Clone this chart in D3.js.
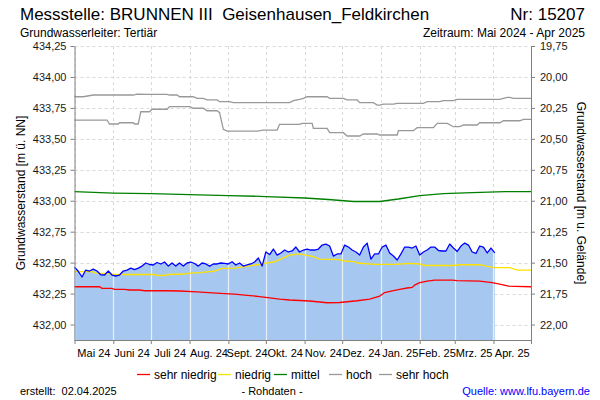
<!DOCTYPE html>
<html>
<head>
<meta charset="utf-8">
<script src="https://cdn.jsdelivr.net/npm/d3@7"></script>
<style>
    body { margin: 0; background: #fff; }
    svg { font-family: Arial, "Liberation Sans", sans-serif; }
</style>
</head>
<body>
<div id="chart"></div>
<script>
// Rohdaten: Grundwasserstand [m ü. NN], alle 3 Tage ab 01.05.2024
const levelStart = "2024-05-01";
const levelStepDays = 3;
const levelValues = [
    432.464, 432.430, 432.384, 432.440, 432.432, 432.448, 432.432, 432.402, 432.400, 432.432,
    432.400, 432.392, 432.400, 432.432, 432.440, 432.456, 432.443, 432.456, 432.472, 432.497,
    432.485, 432.481, 432.501, 432.489, 432.505, 432.472, 432.497, 432.472, 432.497, 432.472,
    432.497, 432.505, 432.493, 432.472, 432.497, 432.489, 432.472, 432.489, 432.489, 432.497,
    432.494, 432.489, 432.507, 432.481, 432.497, 432.472, 432.481, 432.489, 432.505, 432.537,
    432.472, 432.586, 432.565, 432.610, 432.561, 432.578, 432.602, 432.586, 432.594, 432.626,
    432.586, 432.602, 432.610, 432.602, 432.602, 432.610, 432.642, 432.650, 432.634, 432.553,
    432.570, 432.570, 432.642, 432.626, 432.602, 432.586, 432.561, 432.626, 432.658, 432.529,
    432.570, 432.570, 432.626, 432.642, 432.578, 432.553, 432.521, 432.570, 432.626, 432.626,
    432.618, 432.634, 432.561, 432.586, 432.602, 432.626, 432.626, 432.598, 432.594, 432.594,
    432.650, 432.618, 432.590, 432.634, 432.658, 432.642, 432.586, 432.574, 432.634, 432.626,
    432.578, 432.618, 432.578
];

// Kennlinien
const sehrNiedrigDates = ["2024-05-01","2024-05-21","2024-05-23","2024-05-31","2024-06-02","2024-06-10","2024-06-14","2024-06-22","2024-06-26","2024-07-12","2024-07-24","2024-08-07","2024-08-13","2024-08-29","2024-09-06","2024-09-14","2024-09-26","2024-10-04","2024-10-12","2024-10-20","2024-10-28","2024-11-05","2024-11-19","2024-11-29","2024-12-07","2024-12-13","2024-12-23","2024-12-27","2024-12-31","2025-01-04","2025-01-10","2025-01-16","2025-01-22","2025-01-26","2025-01-28","2025-02-01","2025-02-07","2025-02-13","2025-02-27","2025-03-03","2025-03-21","2025-03-31","2025-04-06","2025-04-13","2025-04-18","2025-05-01"];
const sehrNiedrigValues = [432.305,432.305,432.292,432.292,432.284,432.284,432.279,432.279,432.273,432.273,432.271,432.263,432.260,432.250,432.246,432.238,432.226,432.216,432.206,432.198,432.194,432.190,432.176,432.178,432.186,432.192,432.206,432.218,432.230,432.258,432.271,432.284,432.295,432.300,432.319,432.338,432.351,432.359,432.359,432.355,432.351,432.338,432.327,432.311,432.309,432.305];

const niedrigDates = ["2024-05-01","2024-05-15","2024-05-18","2024-05-29","2024-06-02","2024-07-04","2024-07-07","2024-07-12","2024-07-15","2024-07-28","2024-08-01","2024-08-09","2024-08-21","2024-08-27","2024-09-06","2024-09-14","2024-09-28","2024-09-30","2024-10-08","2024-10-14","2024-10-20","2024-10-28","2024-11-08","2024-11-13","2024-11-29","2024-12-03","2024-12-11","2024-12-13","2024-12-27","2025-01-12","2025-01-24","2025-02-01","2025-02-05","2025-03-01","2025-03-05","2025-03-21","2025-03-27","2025-04-02","2025-04-14","2025-04-20","2025-05-01"];
const niedrigValues = [432.428,432.428,432.416,432.412,432.404,432.404,432.396,432.396,432.404,432.408,432.416,432.420,432.432,432.454,432.456,432.467,432.489,432.494,432.507,432.535,432.561,432.570,432.548,432.529,432.525,432.513,432.509,432.497,432.486,432.486,432.494,432.489,432.477,432.477,432.483,432.483,432.469,432.459,432.459,432.440,432.440];

const mittelDates = ["2024-05-01","2024-06-01","2024-07-01","2024-08-01","2024-09-01","2024-10-01","2024-11-01","2024-11-20","2024-12-10","2024-12-31","2025-01-15","2025-02-01","2025-02-20","2025-03-15","2025-04-10","2025-05-01"];
const mittelValues = [433.073,433.062,433.058,433.050,433.042,433.034,433.022,433.010,432.994,432.994,433.014,433.042,433.058,433.066,433.074,433.074];

const hochDates = ["2024-05-01","2024-05-27","2024-05-29","2024-06-05","2024-06-06","2024-06-17","2024-06-18","2024-06-21","2024-06-23","2024-06-30","2024-07-02","2024-07-14","2024-07-16","2024-08-01","2024-08-04","2024-08-12","2024-08-15","2024-08-23","2024-08-25","2024-08-28","2024-08-31","2024-09-24","2024-09-29","2024-10-10","2024-10-12","2024-10-28","2024-10-30","2024-11-07","2024-11-08","2024-11-19","2024-11-21","2024-12-02","2024-12-05","2024-12-15","2024-12-18","2024-12-29","2024-12-31","2025-01-14","2025-01-15","2025-01-27","2025-01-30","2025-02-12","2025-02-15","2025-02-23","2025-02-28","2025-03-05","2025-03-08","2025-03-19","2025-03-21","2025-04-06","2025-04-09","2025-04-22","2025-04-25","2025-05-01"];
const hochValues = [433.652,433.652,433.620,433.620,433.630,433.630,433.620,433.620,433.719,433.719,433.739,433.739,433.760,433.760,433.747,433.747,433.727,433.727,433.711,433.577,433.563,433.563,433.571,433.571,433.617,433.617,433.625,433.625,433.585,433.585,433.550,433.550,433.523,433.523,433.539,433.539,433.531,433.531,433.566,433.566,433.590,433.590,433.625,433.625,433.598,433.598,433.612,433.612,433.630,433.630,433.646,433.646,433.658,433.658];

const sehrHochDates = ["2024-05-01","2024-05-08","2024-05-16","2024-06-17","2024-06-20","2024-06-30","2024-07-14","2024-07-16","2024-07-22","2024-07-24","2024-08-04","2024-08-07","2024-08-12","2024-08-15","2024-08-23","2024-08-25","2024-09-02","2024-09-05","2024-10-20","2024-10-23","2024-10-28","2024-10-31","2024-11-03","2024-11-19","2024-11-21","2024-12-02","2024-12-05","2024-12-13","2024-12-15","2024-12-26","2024-12-29","2024-12-31","2025-01-03","2025-01-11","2025-01-14","2025-02-04","2025-02-07","2025-02-17","2025-02-20","2025-02-28","2025-03-03","2025-04-06","2025-04-12","2025-04-14","2025-04-17","2025-05-01"];
const sehrHochValues = [433.840,433.840,433.854,433.854,433.862,433.860,433.860,433.854,433.854,433.840,433.840,433.827,433.827,433.814,433.814,433.800,433.800,433.792,433.792,433.808,433.819,433.827,433.840,433.840,433.827,433.827,433.814,433.814,433.792,433.792,433.773,433.773,433.781,433.781,433.787,433.787,433.800,433.800,433.808,433.808,433.819,433.819,433.835,433.835,433.827,433.827];

const levelTicks = [432.00, 432.25, 432.50, 432.75, 433.00, 433.25, 433.50, 433.75, 434.00, 434.25];
const monthLabels = ["Mai 24", "Juni 24", "Juli 24", "Aug. 24", "Sept. 24", "Okt. 24", "Nov. 24", "Dez. 24", "Jan. 25", "Feb. 25", "Mrz. 25", "Apr. 25"];
const gelaendeHoehe = 454.0; // m ü. NN, für rechte Achse

const legendItems = [
    { name: "sehr niedrig", color: "#ff0000" },
    { name: "niedrig", color: "#ffe100" },
    { name: "mittel", color: "#008000" },
    { name: "hoch", color: "#999999" },
    { name: "sehr hoch", color: "#999999" }
];

const width = 600, height = 400;
const margin = { top: 46, right: 69, bottom: 60, left: 74.5 };

let parseDate = d3.timeParse("%Y-%m-%d");
let de = d3.formatLocale({ decimal: ",", thousands: ".", grouping: [3], currency: ["", " €"] });
let fmt = de.format(".2f");

let svg = d3.select("#chart").append("svg")
    .attr("width", width)
    .attr("height", height);

let startDate = parseDate("2024-05-01");
let endDate = parseDate("2025-05-01");

let x = d3.scaleTime()
    .domain([startDate, endDate])
    .range([margin.left, width - margin.right]);

let y = d3.scaleLinear()
    .domain([431.875, 434.25])
    .range([height - margin.bottom, margin.top]);

let yR = d3.scaleLinear()
    .domain([gelaendeHoehe - 431.875, gelaendeHoehe - 434.25])
    .range([height - margin.bottom, margin.top]);

let months = d3.timeMonth.range(startDate, d3.timeDay.offset(endDate, 1));

// Gitter
let grid = svg.append("g").attr("class", "grid");
grid.selectAll(".hgrid")
    .data(levelTicks)
    .join("line")
    .attr("x1", x.range()[0]).attr("x2", x.range()[1])
    .attr("y1", d => Math.round(y(d)) + 0.5).attr("y2", d => Math.round(y(d)) + 0.5)
    .attr("stroke", "#d9d9d9")
    .attr("stroke-dasharray", "3,3");
grid.selectAll(".vgrid")
    .data(months)
    .join("line")
    .attr("x1", d => Math.round(x(d)) + 0.5).attr("x2", d => Math.round(x(d)) + 0.5)
    .attr("y1", y.range()[1]).attr("y2", y.range()[0])
    .attr("stroke", "#d9d9d9")
    .attr("stroke-dasharray", "3,3");

// Messwerte
let levelData = levelValues.map((v, i) => ({
    date: d3.timeDay.offset(parseDate(levelStart), i * levelStepDays),
    value: v
}));

let area = d3.area()
    .x(d => x(d.date))
    .y0(y.range()[0])
    .y1(d => y(d.value));

svg.append("path")
    .datum(levelData)
    .attr("d", area)
    .attr("fill", "#a6c8f0");

svg.append("clipPath").attr("id", "fillclip")
    .append("path")
    .datum(levelData)
    .attr("d", area);

svg.append("g")
    .attr("clip-path", "url(#fillclip)")
    .selectAll("line")
    .data(months)
    .join("line")
    .attr("x1", d => Math.round(x(d)) + 0.5).attr("x2", d => Math.round(x(d)) + 0.5)
    .attr("y1", y.range()[1]).attr("y2", y.range()[0])
    .attr("stroke", "#e8eef6")
    .attr("stroke-width", 1.2);

// Kennlinien
let thresholds = [
    { dates: sehrHochDates, values: sehrHochValues, color: legendItems[4].color },
    { dates: hochDates, values: hochValues, color: legendItems[3].color },
    { dates: mittelDates, values: mittelValues, color: legendItems[2].color },
    { dates: niedrigDates, values: niedrigValues, color: legendItems[1].color },
    { dates: sehrNiedrigDates, values: sehrNiedrigValues, color: legendItems[0].color }
];

let line = d3.line()
    .x(d => x(d.date))
    .y(d => y(d.value));

thresholds.forEach(t => {
    let pts = t.dates.map((d, i) => ({ date: parseDate(d), value: t.values[i] }));
    svg.append("path")
        .datum(pts)
        .attr("d", line)
        .attr("fill", "none")
        .attr("stroke", t.color)
        .attr("stroke-width", 1.3);
});

svg.append("path")
    .datum(levelData)
    .attr("d", line)
    .attr("fill", "none")
    .attr("stroke", "#0000ff")
    .attr("stroke-width", 1.3)
    .attr("stroke-linejoin", "round");

// Achsen
let yAxis = d3.axisLeft(y).tickValues(levelTicks).tickFormat(fmt).tickSize(4).tickSizeOuter(0).tickPadding(4);
let yAxisR = d3.axisRight(yR).tickValues(levelTicks.map(v => gelaendeHoehe - v)).tickFormat(fmt).tickSize(4).tickSizeOuter(0).tickPadding(5);
let xAxis = d3.axisBottom(x).tickValues(months).tickFormat("").tickSize(4).tickSizeOuter(0);

let axisStyle = g => {
    g.select(".domain").attr("stroke", "#808080");
    g.selectAll(".tick line").attr("stroke", "#808080");
    g.selectAll(".tick text").attr("fill", "#1a1a1a").style("font-size", "11px").style("font-family", "Arial, 'Liberation Sans', sans-serif");
};

svg.append("g")
    .attr("transform", `translate(${margin.left},0)`)
    .call(yAxis).call(axisStyle);

svg.append("g")
    .attr("transform", `translate(${width - margin.right},0)`)
    .call(yAxisR).call(axisStyle);

svg.append("g")
    .attr("transform", `translate(0,${height - margin.bottom})`)
    .call(xAxis).call(axisStyle);

// Monatsbeschriftung mittig
svg.append("g")
    .selectAll("text")
    .data(monthLabels)
    .join("text")
    .attr("x", (d, i) => (x(months[i]) + x(months[i + 1])) / 2)
    .attr("y", 357)
    .attr("text-anchor", "middle")
    .style("font-size", "11px")
    .attr("fill", "#000")
    .text(d => d);

// Achsentitel
svg.append("text")
    .attr("transform", `translate(25,${(margin.top + height - margin.bottom) / 2}) rotate(-90)`)
    .attr("text-anchor", "middle")
    .style("font-size", "12px")
    .text("Grundwasserstand [m ü. NN]");

svg.append("text")
    .attr("transform", `translate(577,${(margin.top + height - margin.bottom) / 2}) rotate(90)`)
    .attr("text-anchor", "middle")
    .style("font-size", "12px")
    .text("Grundwasserstand [m u. Gelände]");

// Titel
svg.append("text")
    .attr("x", 20).attr("y", 20)
    .style("font-size", "17px")
    .attr("xml:space", "preserve")
    .style("white-space", "pre")
    .text("Messstelle: BRUNNEN III  Geisenhausen_Feldkirchen");

svg.append("text")
    .attr("x", 585).attr("y", 20)
    .attr("text-anchor", "end")
    .style("font-size", "17px")
    .text("Nr: 15207");

svg.append("text")
    .attr("x", 20).attr("y", 37)
    .style("font-size", "12px")
    .text("Grundwasserleiter: Tertiär");

svg.append("text")
    .attr("x", 585).attr("y", 37)
    .attr("text-anchor", "end")
    .style("font-size", "12px")
    .text("Zeitraum: Mai 2024 - Apr 2025");

// Legende
let legendX = [137, 218, 274, 329, 379];
let legend = svg.append("g");
legendItems.forEach((item, i) => {
    legend.append("line")
        .attr("x1", legendX[i]).attr("x2", legendX[i] + 13)
        .attr("y1", 374.5).attr("y2", 374.5)
        .attr("stroke", item.color)
        .attr("stroke-width", 1.3);
    legend.append("text")
        .attr("x", legendX[i] + 17).attr("y", 378.5)
        .style("font-size", "12px")
        .text(item.name);
});

// Fußzeile
svg.append("text")
    .attr("x", 20).attr("y", 395)
    .attr("xml:space", "preserve")
    .style("white-space", "pre")
    .style("font-size", "11px")
    .text("erstellt:  02.04.2025");

svg.append("text")
    .attr("x", 272).attr("y", 395)
    .attr("text-anchor", "middle")
    .style("font-size", "11px")
    .text("- Rohdaten -");

svg.append("text")
    .attr("x", 590).attr("y", 395)
    .attr("text-anchor", "end")
    .style("font-size", "11px")
    .attr("fill", "#0000ff")
    .text("Quelle: www.lfu.bayern.de");
</script>
</body>
</html>
